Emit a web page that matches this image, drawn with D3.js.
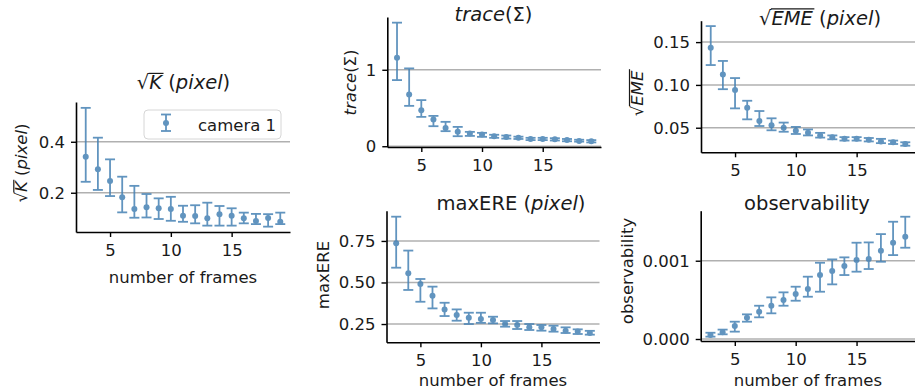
<!DOCTYPE html>
<html>
<head>
<meta charset="utf-8">
<script src="https://cdn.jsdelivr.net/npm/d3@7"></script>
<style>
  body { margin: 0; background: #fff; }
  text { font-family: "DejaVu Sans", sans-serif; fill: #1a1a1a; }
</style>
</head>
<body>
<svg id="fig" width="915" height="392"></svg>
<script>
// number of frames on the x axis
const frames = [3, 4, 5, 6, 7, 8, 9, 10, 11, 12, 13, 14, 15, 16, 17, 18, 19];
const xTicks = [5, 10, 15];

// sqrt(K) in pixel
const kMean = [0.341, 0.292, 0.246, 0.182, 0.136, 0.143, 0.139, 0.136, 0.110, 0.109, 0.100, 0.116, 0.110, 0.100, 0.089, 0.101, 0.086];
const kLo   = [0.243, 0.211, 0.187, 0.123, 0.102, 0.103, 0.097, 0.090, 0.086, 0.080, 0.071, 0.071, 0.071, 0.080, 0.077, 0.067, 0.077];
const kHi   = [0.533, 0.416, 0.331, 0.263, 0.227, 0.195, 0.178, 0.184, 0.149, 0.151, 0.161, 0.148, 0.139, 0.122, 0.117, 0.116, 0.122];

// trace(Sigma)
const trMean = [1.157, 0.677, 0.472, 0.350, 0.240, 0.188, 0.166, 0.153, 0.130, 0.120, 0.110, 0.095, 0.095, 0.090, 0.080, 0.070, 0.065];
const trLo   = [0.865, 0.528, 0.384, 0.262, 0.197, 0.131, 0.135, 0.123, 0.110, 0.100, 0.095, 0.080, 0.080, 0.075, 0.065, 0.060, 0.050];
const trHi   = [1.616, 1.018, 0.603, 0.397, 0.319, 0.253, 0.188, 0.175, 0.150, 0.140, 0.125, 0.110, 0.110, 0.105, 0.095, 0.085, 0.080];

// sqrt(EME) in pixel
const emeMean = [0.1434, 0.1123, 0.0940, 0.0733, 0.0580, 0.0530, 0.0500, 0.0465, 0.0440, 0.0410, 0.0390, 0.0370, 0.0370, 0.0360, 0.0340, 0.0330, 0.0310];
const emeLo   = [0.1232, 0.0950, 0.0726, 0.0598, 0.0520, 0.0470, 0.0453, 0.0427, 0.0410, 0.0385, 0.0365, 0.0350, 0.0350, 0.0340, 0.0320, 0.0310, 0.0290];
const emeHi   = [0.1687, 0.1280, 0.1080, 0.0815, 0.0695, 0.0610, 0.0560, 0.0510, 0.0480, 0.0440, 0.0410, 0.0390, 0.0390, 0.0380, 0.0370, 0.0350, 0.0330];

// maxERE in pixel
const ereMean = [0.736, 0.555, 0.491, 0.420, 0.338, 0.304, 0.288, 0.280, 0.274, 0.250, 0.244, 0.230, 0.230, 0.220, 0.209, 0.205, 0.196];
const ereLo   = [0.589, 0.455, 0.384, 0.344, 0.298, 0.270, 0.250, 0.257, 0.254, 0.234, 0.220, 0.214, 0.210, 0.204, 0.196, 0.190, 0.186];
const ereHi   = [0.896, 0.692, 0.521, 0.475, 0.378, 0.338, 0.318, 0.318, 0.294, 0.268, 0.268, 0.250, 0.244, 0.240, 0.230, 0.218, 0.209];

// observability
const obsMean = [0.000051, 0.000085, 0.000166, 0.000272, 0.000349, 0.000425, 0.000498, 0.000574, 0.000638, 0.000817, 0.000868, 0.000932, 0.001009, 0.001021, 0.001128, 0.001230, 0.001306];
const obsLo   = [0.000030, 0.000060, 0.000094, 0.000221, 0.000277, 0.000328, 0.000425, 0.000489, 0.000540, 0.000604, 0.000698, 0.000817, 0.000860, 0.000894, 0.000987, 0.001072, 0.001166];
const obsHi   = [0.000080, 0.000120, 0.000221, 0.000315, 0.000425, 0.000532, 0.000596, 0.000668, 0.000796, 0.000974, 0.001017, 0.001043, 0.001230, 0.001234, 0.001340, 0.001498, 0.001562];

const legendLabel = 'camera 1';
const xLabel = 'number of frames';

const blue = '#4682b4';
const grid = '#b0b0b0';
const tickSize = 16.5;
const titleSize = 19.5;

const svg = d3.select('#fig');

// text made of pieces: plain, italic, or italic under a radical bar
function rich(parent, segs, opt) {
  const g = parent.append('g')
    .attr('transform', 'translate(' + opt.x + ',' + opt.y + ')' + (opt.rotate ? ' rotate(-90)' : ''));
  const t = g.append('text')
    .attr('text-anchor', opt.anchor || 'middle')
    .attr('font-size', opt.size);
  const nodes = segs.map((s) => {
    const ts = t.append('tspan').text(s.t);
    if (s.it) ts.attr('font-style', 'italic');
    return ts.node();
  });
  segs.forEach((s, i) => {
    if (!s.over) return;
    const n = nodes[i];
    const a = n.getStartPositionOfChar(0).x;
    const b = n.getEndPositionOfChar(s.t.length - 1).x;
    g.append('line')
      .attr('x1', a - 0.5).attr('x2', b + 1.5)
      .attr('y1', -0.8 * opt.size).attr('y2', -0.8 * opt.size)
      .attr('stroke', '#1a1a1a').attr('stroke-width', 1.2);
  });
  return g;
}

const sqrtK = [{ t: '√' }, { t: 'K', it: true, over: true }, { t: ' (' }, { t: 'pixel', it: true }, { t: ')' }];

const panels = [
  {
    box: { l: 76, r: 290, t: 102, b: 232 },
    mean: kMean, lo: kLo, hi: kHi,
    yDomain: [0.046, 0.556], yTicks: [0.2, 0.4], fmt: d3.format('.1f'),
    title: sqrtK, titlePos: [183.5, 89],
    ylabel: sqrtK, ylabelPos: [27, 163],
    xlabelY: 282.5, legend: true
  },
  {
    box: { l: 387.3, r: 601, t: 17, b: 147 },
    mean: trMean, lo: trLo, hi: trHi,
    yDomain: [-0.01, 1.69], yTicks: [0, 1], fmt: d3.format('d'),
    title: [{ t: 'trace', it: true }, { t: '(Σ)' }], titlePos: [493.5, 20.5],
    ylabel: [{ t: 'trace', it: true }, { t: '(Σ)' }], ylabelPos: [356, 82.5]
  },
  {
    box: { l: 701, r: 915, t: 20.7, b: 152.3 },
    mean: emeMean, lo: emeLo, hi: emeHi,
    yDomain: [0.0213, 0.175], yTicks: [0.05, 0.10, 0.15], fmt: d3.format('.2f'),
    title: [{ t: '√' }, { t: 'EME', it: true, over: true }, { t: '  (' }, { t: 'pixel', it: true }, { t: ')' }], titlePos: [820, 24.5],
    ylabel: [{ t: '√' }, { t: 'EME', it: true, over: true }], ylabelPos: [642.7, 93.5]
  },
  {
    box: { l: 386.5, r: 599.5, t: 210.7, b: 342.3 },
    mean: ereMean, lo: ereLo, hi: ereHi,
    yDomain: [0.14, 0.932], yTicks: [0.25, 0.5, 0.75], fmt: d3.format('.2f'),
    title: [{ t: 'maxERE (' }, { t: 'pixel', it: true }, { t: ')' }], titlePos: [511, 210],
    ylabel: [{ t: 'maxERE' }], ylabelPos: [328.7, 275],
    xlabelY: 386
  },
  {
    box: { l: 700.7, r: 915, t: 210.7, b: 341 },
    mean: obsMean, lo: obsLo, hi: obsHi,
    yDomain: [-0.0000255, 0.001639], yTicks: [0, 0.001], fmt: d3.format('.3f'),
    title: [{ t: 'observability' }], titlePos: [807, 210],
    ylabel: [{ t: 'observability' }], ylabelPos: [633, 271],
    xlabelY: 386
  }
];

function errorbar(g, cx, yLo, yHi, yMid) {
  g.append('line').attr('x1', cx).attr('x2', cx).attr('y1', yLo).attr('y2', yHi)
    .attr('stroke', blue).attr('stroke-width', 1.8);
  [yLo, yHi].forEach((yy) => {
    g.append('line').attr('x1', cx - 5).attr('x2', cx + 5).attr('y1', yy).attr('y2', yy)
      .attr('stroke', blue).attr('stroke-width', 1.8);
  });
  g.append('circle').attr('cx', cx).attr('cy', yMid).attr('r', 3).attr('fill', blue);
}

panels.forEach((p) => {
  const x = d3.scaleLinear().domain([2.2, 19.8]).range([p.box.l, p.box.r]);
  const y = d3.scaleLinear().domain(p.yDomain).range([p.box.b, p.box.t]);
  const g = svg.append('g');

  // horizontal grid
  g.append('g').selectAll('line').data(p.yTicks).join('line')
    .attr('x1', p.box.l).attr('x2', p.box.r)
    .attr('y1', (d) => y(d)).attr('y2', (d) => y(d))
    .attr('stroke', grid).attr('stroke-width', 1.5);

  // error bars
  const marks = g.append('g').attr('opacity', 0.85);
  frames.forEach((f, i) => errorbar(marks, x(f), y(p.lo[i]), y(p.hi[i]), y(p.mean[i])));

  // axes
  const ax = g.append('g').attr('transform', 'translate(' + p.box.l + ',0)')
    .call(d3.axisLeft(y).tickValues(p.yTicks).tickFormat(p.fmt).tickSize(5).tickPadding(6).tickSizeOuter(0));
  const bx = g.append('g').attr('transform', 'translate(0,' + p.box.b + ')')
    .call(d3.axisBottom(x).tickValues(xTicks).tickSize(5).tickPadding(7).tickSizeOuter(0));
  [ax, bx].forEach((a) => {
    a.attr('font-family', null).attr('font-size', null);
    a.select('.domain').attr('stroke', '#000').attr('stroke-width', 1.6);
    a.selectAll('.tick line').attr('stroke', '#000').attr('stroke-width', 1.4);
    a.selectAll('.tick text').attr('font-size', tickSize).attr('fill', '#1a1a1a');
  });

  rich(svg, p.title, { x: p.titlePos[0], y: p.titlePos[1], size: titleSize });
  rich(svg, p.ylabel, { x: p.ylabelPos[0], y: p.ylabelPos[1], size: tickSize, rotate: true });
  if (p.xlabelY) {
    rich(svg, [{ t: xLabel }], { x: (p.box.l + p.box.r) / 2, y: p.xlabelY, size: tickSize });
  }

  if (p.legend) {
    const lg = svg.append('g');
    lg.append('rect').attr('x', 144).attr('y', 110).attr('width', 137).attr('height', 29)
      .attr('rx', 4).attr('fill', '#fff').attr('fill-opacity', 0.8)
      .attr('stroke', '#d6d6d6').attr('stroke-width', 1);
    const lm = lg.append('g').attr('opacity', 0.85);
    errorbar(lm, 166, 131, 114.5, 123);
    lg.append('text').attr('x', 198).attr('y', 131).attr('font-size', tickSize).text(legendLabel);
  }
});
</script>
</body>
</html>
